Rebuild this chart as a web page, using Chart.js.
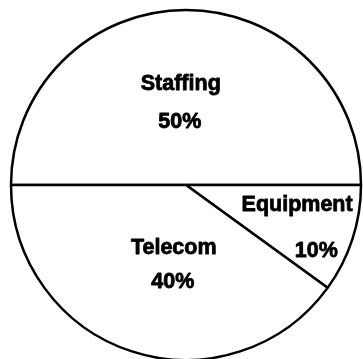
<!DOCTYPE html>
<html>
<head>
<meta charset="utf-8">
<script src="https://cdn.jsdelivr.net/npm/chart.js@4.4.0/dist/chart.umd.min.js"></script>
<style>
  html, body { margin: 0; padding: 0; background: #ffffff; }
  canvas { display: block; }
</style>
</head>
<body>
<canvas id="pieChart" width="363" height="359"></canvas>
<script>
// Datos del grafico (orden: desde las 9 en punto, sentido horario)
const categories = ['Staffing', 'Equipment', 'Telecom'];
const shares = [50, 10, 40];
const shareLabels = ['50%', '10%', '40%'];

// Posicion de las etiquetas, en fracciones del radio respecto al centro
const labelSpots = [
    { name: [-0.03, -0.575], value: [-0.035, -0.36] },
    { name: [0.635, 0.115], value: [0.745, 0.375] },
    { name: [-0.07, 0.36], value: [-0.075, 0.555] }
];

const sliceLabels = {
    id: 'sliceLabels',
    afterDatasetsDraw(chart) {
        const ctx = chart.ctx;
        const arcs = chart.getDatasetMeta(0).data;
        ctx.save();
        ctx.fillStyle = '#000000';
        ctx.strokeStyle = '#000000';
        ctx.lineWidth = 0.8;
        ctx.lineJoin = 'round';
        ctx.font = 'bold 21.5px "Liberation Sans", Arial, sans-serif';
        ctx.textAlign = 'center';
        ctx.textBaseline = 'middle';
        arcs.forEach((arc, i) => {
            const r = arc.outerRadius;
            const spot = labelSpots[i];
            const nx = arc.x + spot.name[0] * r, ny = arc.y + spot.name[1] * r;
            const vx = arc.x + spot.value[0] * r, vy = arc.y + spot.value[1] * r;
            ctx.fillText(categories[i], nx, ny);
            ctx.strokeText(categories[i], nx, ny);
            ctx.fillText(shareLabels[i], vx, vy);
            ctx.strokeText(shareLabels[i], vx, vy);
        });
        ctx.restore();
    }
};

const pieCtx = document.getElementById('pieChart').getContext('2d');
const pieChart = new Chart(pieCtx, {
    type: 'pie',
    data: {
        labels: categories,
        datasets: [{
            data: shares,
            backgroundColor: '#ffffff',
            borderColor: '#000000',
            borderWidth: 2.5
        }]
    },
    options: {
        responsive: false,
        animation: false,
        rotation: -90,
        radius: 175,
        layout: {
            padding: { left: 9, top: 11, right: 0, bottom: 0 }
        },
        plugins: {
            legend: { display: false },
            tooltip: { enabled: false }
        }
    },
    plugins: [sliceLabels]
});
</script>
</body>
</html>
